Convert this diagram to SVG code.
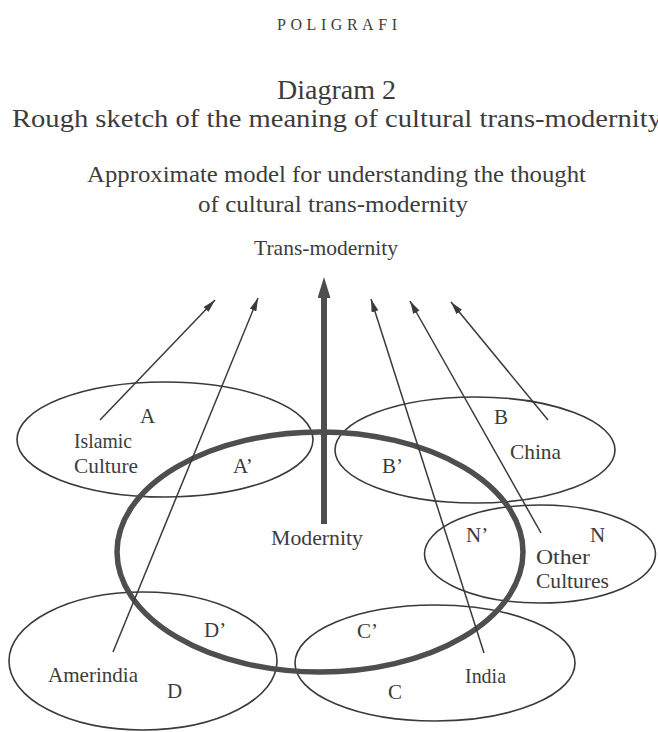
<svg xmlns="http://www.w3.org/2000/svg" width="658" height="732" viewBox="0 0 658 732">
<defs>
<style>
text{font-family:"Liberation Serif","DejaVu Serif",serif;fill:#3c3c3c}
.lbl{font-size:21px}
.cult{fill:none;stroke:#3a3a3a;stroke-width:1.6}
.mod{fill:none;stroke:#4e4e4e;stroke-width:5.5}
.arr{fill:none;stroke:#3a3a3a;stroke-width:1.5;marker-end:url(#ah)}
.big{fill:none;stroke:#4e4e4e;stroke-width:6;marker-end:url(#bh)}
</style>
<marker id="ah" markerUnits="userSpaceOnUse" markerWidth="14" markerHeight="8" refX="13" refY="3.5" orient="auto">
<path d="M0,0 L13,3.5 L0,7 z" fill="#3a3a3a"/>
</marker>
<marker id="bh" markerUnits="userSpaceOnUse" markerWidth="24" markerHeight="14" refX="0" refY="6.5" orient="auto">
<path d="M0,0 L21,6.5 L0,13 z" fill="#4e4e4e"/>
</marker>
</defs>
<rect width="658" height="732" fill="#ffffff"/>

<g id="header">
<text x="277" y="30" font-size="16" textLength="120" lengthAdjust="spacing">POLIGRAFI</text>
<text x="277" y="99" font-size="28" textLength="119" lengthAdjust="spacingAndGlyphs">Diagram 2</text>
<text x="12" y="127" font-size="26" textLength="650" lengthAdjust="spacingAndGlyphs">Rough sketch of the meaning of cultural trans-modernity</text>
<text x="87" y="182" font-size="24" textLength="499" lengthAdjust="spacingAndGlyphs">Approximate model for understanding the thought</text>
<text x="198" y="212" font-size="24" textLength="270" lengthAdjust="spacingAndGlyphs">of cultural trans-modernity</text>
<text x="254" y="255" font-size="21" textLength="144" lengthAdjust="spacingAndGlyphs">Trans-modernity</text>
</g>

<g id="islamic">
<ellipse class="cult" cx="165" cy="439.5" rx="148" ry="57.5"/>
<text class="lbl" x="140" y="423">A</text>
<text class="lbl" x="74" y="448" textLength="58" lengthAdjust="spacingAndGlyphs">Islamic</text>
<text class="lbl" x="74" y="473" textLength="64" lengthAdjust="spacingAndGlyphs">Culture</text>
<text class="lbl" x="233" y="473">A’</text>
</g>

<g id="china">
<ellipse class="cult" cx="475" cy="450" rx="140" ry="53"/>
<text class="lbl" x="494" y="424">B</text>
<text class="lbl" x="510" y="459" textLength="51" lengthAdjust="spacingAndGlyphs">China</text>
<text class="lbl" x="382" y="473">B’</text>
</g>

<g id="other-cultures">
<ellipse class="cult" cx="540" cy="554" rx="115.5" ry="49"/>
<text class="lbl" x="466" y="542">N’</text>
<text class="lbl" x="590" y="542">N</text>
<text class="lbl" x="536" y="564" textLength="54" lengthAdjust="spacingAndGlyphs">Other</text>
<text class="lbl" x="536" y="588" textLength="73" lengthAdjust="spacingAndGlyphs">Cultures</text>
</g>

<g id="india">
<ellipse class="cult" cx="435" cy="663" rx="140" ry="58"/>
<text class="lbl" x="357" y="638">C’</text>
<text class="lbl" x="465" y="683" textLength="41" lengthAdjust="spacingAndGlyphs">India</text>
<text class="lbl" x="388" y="699">C</text>
</g>

<g id="amerindia">
<ellipse class="cult" cx="143" cy="661" rx="134" ry="69"/>
<text class="lbl" x="204" y="637">D’</text>
<text class="lbl" x="48" y="682" textLength="90" lengthAdjust="spacingAndGlyphs">Amerindia</text>
<text class="lbl" x="167" y="698">D</text>
</g>

<g id="modernity">
<ellipse class="mod" cx="320" cy="552" rx="203" ry="120"/>
<text class="lbl" x="271" y="545" textLength="92" lengthAdjust="spacingAndGlyphs">Modernity</text>
</g>

<g id="connectors">
<path class="big" d="M324,524 L324,298"/>
<path class="arr" d="M100,420 L215,300"/>
<path class="arr" d="M113,652 L258,298"/>
<path class="arr" d="M484,653 L371,299"/>
<path class="arr" d="M541,533 L410,301"/>
<path class="arr" d="M548,420 L451,302"/>
</g>
</svg>
